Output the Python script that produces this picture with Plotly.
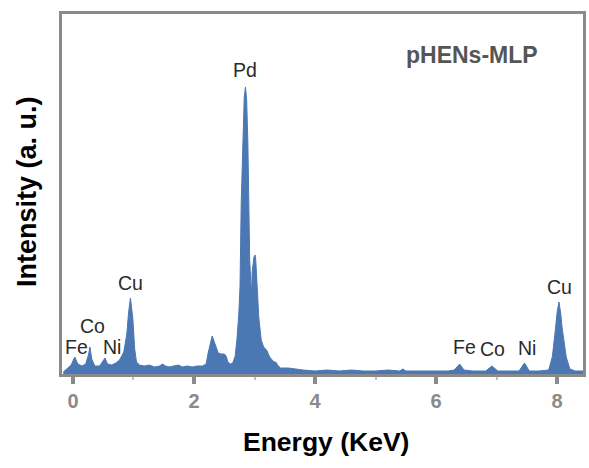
import plotly.graph_objects as go

# EDS spectrum (energy in keV, counts in arbitrary units)
energy = [
    -0.16, -0.10, -0.03, 0.03, 0.08, 0.15, 0.21, 0.26, 0.28, 0.31, 0.36, 0.44,
    0.49, 0.53, 0.57, 0.64, 0.71, 0.77, 0.84, 0.89, 0.92, 0.95, 0.99, 1.02,
    1.05, 1.10, 1.18, 1.26, 1.35, 1.43, 1.48, 1.53, 1.59, 1.68, 1.74, 1.81,
    1.89, 1.97, 2.05, 2.14, 2.20, 2.23, 2.27, 2.30, 2.33, 2.37, 2.40, 2.45,
    2.50, 2.53, 2.56, 2.60, 2.64, 2.68, 2.71, 2.74, 2.76, 2.78, 2.81, 2.83,
    2.85, 2.87, 2.89, 2.91, 2.92, 2.95, 2.96, 2.99, 3.01, 3.02, 3.04, 3.07,
    3.11, 3.15, 3.20, 3.25, 3.32, 3.35, 3.38, 3.43, 3.56, 3.65, 3.80, 4.00,
    4.20, 4.40, 4.60, 4.80, 5.00, 5.20, 5.40, 5.45, 5.50, 5.60, 5.80, 6.00,
    6.20, 6.30, 6.39, 6.46, 6.60, 6.82, 6.92, 7.02, 7.20, 7.37, 7.46, 7.54,
    7.70, 7.86, 7.92, 7.95, 7.97, 8.00, 8.03, 8.06, 8.08, 8.12, 8.15, 8.21,
    8.30, 8.45,
]
counts = [
    2, 5, 9, 17, 10, 8, 10, 20, 27, 15, 8, 8,
    12, 16, 10, 9, 11, 14, 22, 40, 62, 76, 55, 25,
    12, 9, 8, 9, 7, 8, 10, 8, 7, 8, 9, 7,
    8, 7, 8, 8, 10, 20, 32, 38, 33, 25, 21, 20,
    20, 18, 12, 10, 11, 18, 35, 60, 87, 171, 237, 277,
    287, 274, 231, 164, 114, 77, 101, 117, 119, 114, 87, 57,
    34, 27, 24, 17, 12, 12, 9, 6, 6, 5, 4, 3,
    4, 3, 4, 3, 3, 4, 3, 5, 3, 3, 3, 3,
    3, 4, 10, 4, 3, 3, 8, 3, 3, 3, 11, 3,
    3, 4, 17, 30, 44, 62, 72, 60, 47, 30, 17, 5,
    3, 3,
]

# Element labels above the peaks
peak_names = ["Fe", "Co", "Ni", "Cu", "Pd", "Fe", "Co", "Ni", "Cu"]
peak_x = [0.06, 0.33, 0.64, 0.95, 2.85, 6.47, 6.93, 7.50, 8.04]
peak_y = [27, 48, 27, 91, 304, 27, 25, 26, 87]

x_ticks = [0, 2, 4, 6, 8]

blue = "#4b78b3"
frame = "#8a8a8a"
font_family = "Liberation Sans, Arial"

fig = go.Figure()
fig.add_trace(go.Scatter(
    x=energy, y=counts, mode="lines", fill="tozeroy",
    line=dict(color=blue, width=1), fillcolor=blue,
    hoverinfo="skip", showlegend=False,
))

annotations = []
for name, px, py in zip(peak_names, peak_x, peak_y):
    annotations.append(dict(
        x=px, y=py, xref="x", yref="y", text=name, showarrow=False,
        xanchor="center", yanchor="middle",
        font=dict(family=font_family, size=19.5, color="#2b2b2b"),
    ))

annotations.append(dict(
    x=0.786, y=0.886, xref="paper", yref="paper", text="pHENs-MLP",
    showarrow=False, xanchor="center", yanchor="middle",
    font=dict(family=font_family, size=23, color="#555555", weight="bold"),
))
annotations.append(dict(
    x=0.506, y=-0.189, xref="paper", yref="paper", text="Energy (KeV)",
    showarrow=False, xanchor="center", yanchor="middle",
    font=dict(family=font_family, size=26.5, color="#000000", weight="bold"),
))
annotations.append(dict(
    x=-0.067, y=0.506, xref="paper", yref="paper", text="Intensity (a. u.)",
    showarrow=False, xanchor="center", yanchor="middle", textangle=-90,
    font=dict(family=font_family, size=27, color="#000000", weight="bold"),
))

fig.update_layout(
    width=589, height=468,
    margin=dict(l=62, r=3, t=14, b=94),
    paper_bgcolor="white", plot_bgcolor="white",
    annotations=annotations,
    xaxis=dict(
        range=[-0.181, 8.427], tickmode="array", tickvals=x_ticks,
        ticktext=[str(t) for t in x_ticks],
        showgrid=False, zeroline=False,
        showline=True, linecolor=frame, linewidth=3, mirror=True,
        ticks="outside", ticklen=7, tickwidth=3.5, tickcolor=frame,
        tickfont=dict(family=font_family, size=20, color=frame, weight="bold"),
        minor=dict(tickmode="array", tickvals=[1, 3, 5, 7], ticks="outside",
                   ticklen=3, tickwidth=2, tickcolor="#c0c0c0"),
    ),
    yaxis=dict(
        range=[0, 360], showticklabels=False, ticks="",
        showgrid=False, zeroline=False,
        showline=True, linecolor=frame, linewidth=3, mirror=True,
    ),
)

fig.write_html("out.html")
